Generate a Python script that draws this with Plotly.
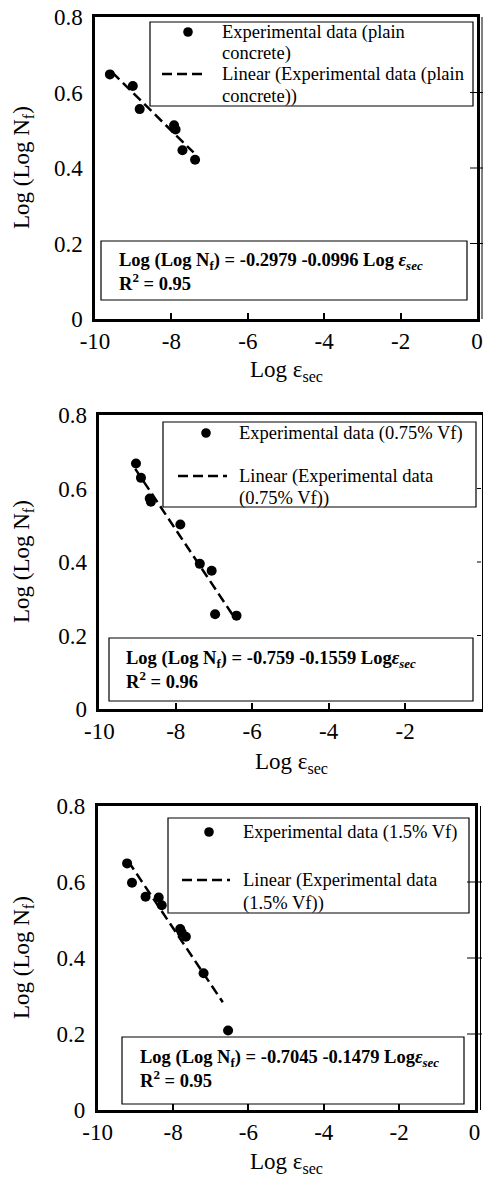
import plotly.graph_objects as go

# ---------------- data ----------------
x_plain = [-9.61, -9.01, -8.83, -7.93, -7.89, -7.71, -7.38]
y_plain = [0.648, 0.617, 0.556, 0.513, 0.502, 0.447, 0.422]

x_075 = [-9.04, -8.91, -8.68, -8.65, -7.88, -7.37, -7.06, -6.97, -6.41]
y_075 = [0.668, 0.629, 0.573, 0.564, 0.502, 0.395, 0.376, 0.258, 0.254]

x_15 = [-9.22, -9.09, -8.73, -8.38, -8.30, -7.81, -7.77, -7.66, -7.19, -6.54]
y_15 = [0.649, 0.598, 0.561, 0.559, 0.539, 0.476, 0.467, 0.456, 0.360, 0.209]

# trendline coefficients (intercept, slope) and plotted x span
fit_intercept = [-0.2979, -0.759, -0.7045]
fit_slope = [-0.0996, -0.1559, -0.1479]
fit_r2 = ["0.95", "0.96", "0.95"]
fit_xspan = [[-9.55, -7.42], [-9.06, -6.47], [-9.19, -6.68]]

legend_labels = [
    (["Experimental data (plain", "concrete)"], ["Linear (Experimental data (plain", "concrete))"]),
    (["Experimental data (0.75% Vf)"], ["Linear (Experimental data", "(0.75% Vf))"]),
    (["Experimental data (1.5% Vf)"], ["Linear (Experimental data", "(1.5% Vf))"]),
]
eq_labels = [
    "Log (Log N<sub>f</sub>) = -0.2979 -0.0996 Log <i>ε<sub>sec</sub></i>",
    "Log (Log N<sub>f</sub>) = -0.759 -0.1559 Log<i>ε<sub>sec</sub></i>",
    "Log (Log N<sub>f</sub>) = -0.7045 -0.1479 Log<i>ε<sub>sec</sub></i>",
]
x_ticks = [-10, -8, -6, -4, -2, 0]
x_ticktext = ["-10", "-8", "-6", "-4", "-2", "0"]
y_ticks = [0, 0.2, 0.4, 0.6, 0.8]
y_ticktext = ["0", "0.2", "0.4", "0.6", "0.8"]

xs = [x_plain, x_075, x_15]
ys = [y_plain, y_075, y_15]

# ---------------- layout helpers ----------------
W, H = 483, 1180
FONT = "Liberation Serif, Times New Roman, serif"


def px(x):
    return x / W


def py(y):
    return 1 - y / H


# plot area rectangles in pixels: left, right, top, bottom
areas = [(95, 477, 17, 319), (99.3, 481.5, 415, 709), (97.7, 474.5, 806, 1110)]
# extra right-side tick marks: (line x px or None, tick x0, tick x1)
extra_right = [(482, 470, 483), (None, 477, 481), (480.5, 467, 482)]
legend_box = [(150, 473, 22, 106), (163, 476, 422, 507), (168, 469, 818, 913)]
legend_geo = [  # marker x, marker y, text left, line1 ys, dash x0, x1, dash y, line2 ys
    (188, 32, 220, [32, 53], 162, 207, 74, [74, 96]),
    (206, 433, 237, [433], 178, 227, 476, [476, 498]),
    (209, 832, 241, [832], 182, 230, 880, [880, 903]),
]
eq_box = [(101, 467, 241, 300), (109, 473, 638, 701), (122, 464, 1037, 1104)]
eq_text = [(117, 262, 282), (124, 659, 680), (138, 1058, 1079)]
xtitle_pos = [(286, 371), (291, 763), (286, 1163)]
ytitle_pos = [(23, 168), (23, 562), (23, 958)]

fig = go.Figure()
shapes = []
annotations = []
layout = {}

for i in range(3):
    n = i + 1
    xa = "x" if n == 1 else f"x{n}"
    ya = "y" if n == 1 else f"y{n}"
    L, R, T, B = areas[i]

    fig.add_trace(go.Scatter(
        x=xs[i], y=ys[i], mode="markers", xaxis=xa, yaxis=ya,
        marker=dict(color="black", size=10), showlegend=False, hoverinfo="x+y"))
    x0, x1 = fit_xspan[i]
    fig.add_trace(go.Scatter(
        x=[x0, x1],
        y=[fit_intercept[i] + fit_slope[i] * x0, fit_intercept[i] + fit_slope[i] * x1],
        mode="lines", xaxis=xa, yaxis=ya,
        line=dict(color="black", width=2.5, dash="10px,5px"), showlegend=False))

    xkey = "xaxis" if n == 1 else f"xaxis{n}"
    ykey = "yaxis" if n == 1 else f"yaxis{n}"
    layout[xkey] = dict(
        domain=[px(L), px(R)], anchor=ya, range=[-10, 0], tickvals=x_ticks,
        ticktext=x_ticktext, automargin=False, ticklabelstandoff=0,
        ticks="inside", ticklen=6, tickwidth=1.5, tickcolor="black",
        showline=True, linewidth=2.5, linecolor="black", mirror=True,
        showgrid=False, zeroline=False,
        tickfont=dict(family=FONT, size=23, color="black"))
    layout[ykey] = dict(
        domain=[py(B), py(T)], anchor=xa, range=[0, 0.8], tickvals=y_ticks,
        ticktext=y_ticktext, automargin=False, ticklabelstandoff=5,
        ticks="", showline=True, linewidth=2.5, linecolor="black", mirror=True,
        showgrid=False, zeroline=False,
        tickfont=dict(family=FONT, size=23, color="black"))

    # right-side secondary axis line and tick marks
    lxr, tx0, tx1 = extra_right[i]
    if lxr is not None:
        shapes.append(dict(type="line", xref="paper", yref="paper",
                           x0=px(lxr), x1=px(lxr), y0=py(B), y1=py(T),
                           line=dict(color="black", width=1)))
    for tv in y_ticks[1:4]:
        shapes.append(dict(type="line", xref="paper", yref=ya,
                           x0=px(tx0), x1=px(tx1), y0=tv, y1=tv,
                           line=dict(color="black", width=1)))

    # legend box
    lx0, lx1, ly0, ly1 = legend_box[i]
    shapes.append(dict(type="rect", xref="paper", yref="paper",
                       x0=px(lx0), x1=px(lx1), y0=py(ly1), y1=py(ly0),
                       line=dict(color="black", width=1.2), fillcolor="white", layer="below"))
    mx, my, tl, l1ys, dx0, dx1, dy, l2ys = legend_geo[i]
    r = 4.8
    shapes.append(dict(type="circle", xref="paper", yref="paper",
                       x0=px(mx - r), x1=px(mx + r), y0=py(my + r), y1=py(my - r),
                       fillcolor="black", line=dict(color="black", width=0)))
    shapes.append(dict(type="line", xref="paper", yref="paper",
                       x0=px(dx0), x1=px(dx1), y0=py(dy), y1=py(dy),
                       line=dict(color="black", width=2.5, dash="10px,5px")))
    lab1, lab2 = legend_labels[i]
    for txt, yy in zip(lab1 + lab2, l1ys + l2ys):
        annotations.append(dict(text=txt, xref="paper", yref="paper", x=px(tl), y=py(yy),
                                xanchor="left", yanchor="middle", showarrow=False,
                                font=dict(family=FONT, size=18.5, color="black")))

    # equation box
    ex0, ex1, ey0, ey1 = eq_box[i]
    shapes.append(dict(type="rect", xref="paper", yref="paper",
                       x0=px(ex0), x1=px(ex1), y0=py(ey1), y1=py(ey0),
                       line=dict(color="black", width=1.2), fillcolor="white", layer="below"))
    etx, ety1, ety2 = eq_text[i]
    annotations.append(dict(text="<b>" + eq_labels[i] + "</b>", xref="paper", yref="paper",
                            x=px(etx), y=py(ety1), xanchor="left", yanchor="middle",
                            showarrow=False, font=dict(family=FONT, size=18.5, color="black")))
    annotations.append(dict(text="<b>R<sup>2</sup> = " + fit_r2[i] + "</b>", xref="paper",
                            yref="paper", x=px(etx), y=py(ety2), xanchor="left",
                            yanchor="middle", showarrow=False,
                            font=dict(family=FONT, size=18.5, color="black")))

    # axis titles
    tx, ty = xtitle_pos[i]
    annotations.append(dict(text="Log ε<sub>sec</sub>", xref="paper", yref="paper",
                            x=px(tx), y=py(ty), xanchor="center", yanchor="middle",
                            showarrow=False, font=dict(family=FONT, size=23, color="black")))
    tx, ty = ytitle_pos[i]
    annotations.append(dict(text="Log (Log N<sub>f</sub>)", xref="paper", yref="paper",
                            x=px(tx), y=py(ty), xanchor="center", yanchor="middle",
                            textangle=-90, showarrow=False,
                            font=dict(family=FONT, size=23, color="black")))

fig.update_layout(
    width=W, height=H, margin=dict(l=0, r=0, t=0, b=0, autoexpand=False),
    plot_bgcolor="white", paper_bgcolor="white", showlegend=False,
    shapes=shapes, annotations=annotations, **layout)

fig.write_html(
    "out.html",
    config={"displayModeBar": False},
    post_script="document.body.style.margin='0';document.body.style.padding='0';"
                "document.body.style.overflow='hidden';"
                "document.documentElement.style.overflow='hidden';")
